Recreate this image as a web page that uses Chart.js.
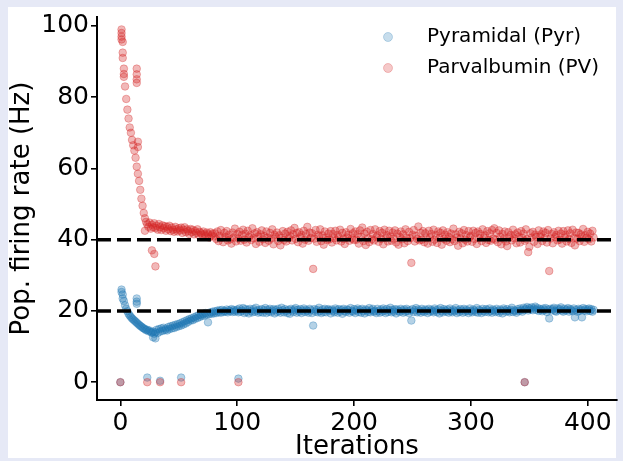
<!DOCTYPE html>
<html>
<head>
<meta charset="utf-8">
<script src="https://cdn.jsdelivr.net/npm/chart.js@4.4.1/dist/chart.umd.min.js"></script>
<style>
  html, body { margin: 0; padding: 0; background: #e6e9f6; }
  canvas { display: block; }
</style>
</head>
<body>
<canvas id="rates" width="623" height="461"></canvas>
<script>
// Population firing rates recorded at each training iteration (index = iteration).
const seriesNames = ['Pyramidal (Pyr)', 'Parvalbumin (PV)'];
const targetRates = [40, 20];
const xTicks = [0, 100, 200, 300, 400];
const yTicks = [0, 20, 40, 60, 80, 100];

const pyrRate = [
  0.0,
  // 1-10
  26.0, 24.6, 22.8, 21.6, 20.6, 19.9, 19.2, 18.7, 18.3, 17.9,
  // 11-20
  17.6, 17.3, 17.0, 16.7, 16.4, 16.1, 15.8, 15.6, 15.3, 15.1,
  // 21-30
  14.9, 14.6, 14.7, 14.3, 14.5, 14.1, 13.9, 14.2, 13.6, 14.0,
  // 31-40
  14.7, 13.8, 14.9, 14.2, 15.1, 14.4, 15.3, 14.6, 15.0, 14.5,
  // 41-50
  15.5, 14.9, 15.7, 15.1, 15.9, 15.2, 16.1, 15.5, 16.3, 15.7,
  // 51-60
  16.5, 15.9, 16.8, 16.2, 17.1, 16.5, 17.4, 16.9, 17.7, 17.3,
  // 61-70
  17.9, 17.4, 18.2, 17.8, 18.5, 18.0, 18.8, 18.3, 19.0, 18.6,
  // 71-80
  19.2, 18.7, 19.4, 19.0, 16.8, 19.1, 19.6, 19.2, 19.8, 19.3,
  // 81-90
  19.9, 19.4, 20.1, 19.6, 20.2, 19.5, 20.3, 19.7, 20.0, 19.8,
  // 91-99
  20.4, 19.6, 20.2, 19.9, 20.5, 19.7, 20.3, 19.8, 20.1,
  // 100-119
  20.4, 19.6, 20.7, 19.8, 20.1, 20.8, 19.4, 20.5, 19.7, 20.3, 19.3, 20.6, 20.0, 19.6, 20.5, 19.8, 20.9, 20.1, 19.5, 20.3,
  // 120-139
  19.7, 20.5, 19.5, 20.2, 20.8, 19.4, 20.3, 19.8, 20.6, 19.6, 20.1, 20.5, 19.3, 20.3, 19.7, 20.6, 20.0, 19.5, 20.9, 20.2,
  // 140-159
  19.6, 20.5, 20.0, 19.4, 20.3, 19.2, 20.6, 20.1, 19.7, 20.4, 20.8, 19.5, 20.3, 19.8, 20.5, 19.4, 20.1, 20.7, 19.7, 20.3,
  // 160-179
  20.0, 19.5, 20.6, 20.2, 19.4, 15.9, 20.5, 19.8, 20.3, 19.6, 20.9, 20.0, 19.4, 20.4, 19.7, 20.6, 19.6, 20.2, 20.5, 20.1,
  // 180-199
  19.3, 20.4, 20.0, 19.6, 20.7, 20.2, 19.5, 20.5, 19.8, 20.3, 19.2, 20.6, 20.0, 19.7, 20.4, 20.2, 19.5, 20.8, 20.0, 19.8,
  // 200-219
  20.5, 19.4, 20.2, 20.7, 19.7, 20.3, 19.5, 20.6, 20.0, 19.3, 20.4, 20.1, 19.7, 20.8, 19.6, 20.2, 20.6, 19.8, 20.0, 19.4,
  // 220-239
  20.6, 20.0, 19.5, 20.4, 19.8, 20.7, 20.1, 19.4, 20.5, 19.7, 20.2, 20.9, 19.6, 20.3, 19.8, 20.5, 19.3, 20.4, 20.0, 19.7,
  // 240-259
  20.6, 20.1, 19.5, 20.4, 19.8, 20.6, 20.0, 19.4, 20.2, 17.3, 20.5, 19.7, 20.2, 20.8, 19.6, 20.4, 20.0, 19.5, 20.6, 20.0,
  // 260-279
  19.7, 20.4, 20.1, 19.4, 20.6, 19.8, 20.3, 20.0, 19.6, 20.7, 20.2, 19.7, 20.4, 19.3, 20.8, 20.0, 19.6, 20.5, 20.1, 19.8,
  // 280-299
  20.4, 19.5, 20.7, 20.0, 19.6, 20.3, 19.9, 20.8, 19.4, 20.2, 19.7, 20.5, 20.1, 19.5, 20.6, 19.8, 20.3, 20.0, 19.4, 20.7,
  // 300-319
  20.0, 19.6, 20.4, 20.1, 19.7, 20.8, 19.5, 20.3, 20.0, 19.4, 20.6, 20.0, 19.7, 20.5, 20.2, 19.6, 20.7, 20.0, 19.5, 20.4,
  // 320-339
  20.1, 19.7, 20.6, 20.0, 19.5, 20.4, 20.0, 19.3, 20.7, 20.2, 19.8, 20.5, 20.0, 19.6, 20.3, 20.9, 19.7, 20.2, 20.0, 19.5,
  // 340-359
  20.5, 20.0, 20.7, 20.2, 19.8, 20.9, 20.3, 20.6, 21.1, 20.1, 20.8, 20.4, 21.0, 20.2, 20.7, 21.2, 20.3, 20.8, 20.0, 20.6,
  // 360-379
  20.3, 19.9, 20.7, 20.2, 20.8, 19.7, 20.4, 17.9, 20.6, 20.1, 20.5, 20.9, 20.0, 19.8, 20.7, 20.2, 20.5, 21.0, 20.1, 19.8,
  // 380-399
  20.6, 20.1, 20.4, 20.8, 19.8, 20.5, 20.2, 19.9, 20.7, 18.2, 20.3, 19.8, 20.6, 20.0, 20.4, 18.2, 20.8, 20.1, 20.5, 19.9,
  // 400-405
  20.4, 20.7, 20.0, 20.5, 19.8, 20.3
];

const pvRate = [
  0.0,
  // 1-10
  99.0, 95.5, 88.0, 83.0, 79.5, 76.5, 74.0, 71.5, 70.0, 68.0,
  // 11-20
  66.5, 65.0, 63.0, 60.5, 58.5, 56.5, 54.0, 51.5, 49.5, 47.5,
  // 21-30
  46.0, 45.0, 44.3, 43.6, 44.8, 43.1, 44.2, 43.5, 44.6, 43.3,
  // 31-40
  43.9, 42.8, 44.4, 43.5, 42.7, 44.0, 43.2, 43.8, 42.5, 43.6,
  // 41-50
  42.9, 43.9, 42.4, 43.4, 42.8, 42.2, 43.6, 42.9, 42.3, 43.2,
  // 51-60
  42.6, 43.4, 41.9, 42.8, 43.5, 42.1, 42.9, 42.4, 41.6, 43.0,
  // 61-70
  42.1, 42.8, 41.5, 42.4, 41.9, 42.9, 41.3, 42.2, 41.8, 41.4,
  // 71-80
  42.3, 41.6, 41.0, 42.0, 41.5, 40.6, 42.1, 41.2, 41.7, 40.9,
  // 81-100
  41.8, 40.2, 42.3, 39.6, 41.1, 42.7, 40.5, 39.3, 41.9, 40.8, 42.4, 39.8, 41.4, 40.1, 38.9, 42.0, 40.6, 43.1, 39.5, 41.6,
  // 101-120
  40.3, 42.2, 39.7, 41.3, 42.8, 40.0, 41.7, 39.2, 42.5, 40.7, 41.2, 39.9, 43.2, 40.4, 41.8, 38.8, 42.1, 40.9, 39.4, 41.5,
  // 121-140
  42.6, 40.1, 41.0, 39.1, 42.3, 40.6, 39.7, 41.9, 40.3, 42.9, 38.7, 41.4, 40.8, 42.0, 39.6, 41.2, 38.4, 40.5, 42.4, 39.9,
  // 141-160
  41.7, 39.5, 42.2, 40.4, 41.1, 42.6, 39.8, 41.5, 43.3, 40.2, 41.9, 39.3, 42.1, 40.7, 41.3, 38.9, 42.5, 40.0, 41.6, 43.6,
  // 161-180
  39.7, 42.0, 40.5, 41.8, 31.8, 40.3, 42.7, 39.4, 41.4, 40.9, 42.9, 39.6, 41.2, 38.6, 42.3, 40.6, 39.9, 41.7, 40.1, 42.4,
  // 181-200
  39.2, 41.6, 40.4, 42.5, 39.8, 41.3, 40.7, 42.8, 39.5, 41.9, 40.2, 38.8, 42.1, 40.6, 41.4, 39.7, 43.0, 40.3, 41.8, 39.9,
  // 201-220
  42.3, 40.0, 41.5, 38.9, 42.6, 40.8, 43.4, 39.6, 41.7, 38.5, 42.2, 40.4, 39.3, 42.7, 40.1, 41.6, 39.8, 42.9, 40.7, 41.2,
  // 221-240
  39.4, 42.4, 40.2, 41.9, 38.7, 42.8, 40.5, 41.3, 39.5, 42.5, 40.9, 39.7, 42.0, 40.3, 42.6, 39.2, 41.7, 38.6, 40.8, 42.3,
  // 241-260
  40.1, 41.5, 39.0, 42.9, 40.6, 39.6, 42.2, 40.4, 33.5, 41.4, 42.7, 39.5, 41.1, 40.2, 43.7, 39.8, 41.9, 40.0, 42.4, 39.3,
  // 261-280
  41.8, 40.4, 38.9, 42.5, 40.7, 41.6, 39.4, 42.8, 40.0, 41.3, 39.1, 42.3, 40.5, 41.9, 38.6, 42.6, 40.2, 41.4, 39.7, 42.1,
  // 281-300
  40.8, 39.3, 41.7, 40.1, 43.1, 39.6, 41.5, 40.6, 38.3, 42.2, 40.3, 41.8, 39.0, 42.7, 40.0, 41.3, 39.5, 42.4, 40.7, 41.1,
  // 301-320
  39.4, 42.5, 40.2, 41.9, 38.8, 42.3, 40.4, 41.6, 39.6, 42.9, 40.6, 41.2, 39.1, 42.4, 39.9, 41.8, 39.7, 42.7, 40.3, 43.2,
  // 321-340
  40.0, 41.9, 39.3, 42.6, 40.8, 38.7, 41.6, 40.2, 42.3, 39.5, 38.2, 42.1, 40.7, 41.3, 39.8, 42.8, 40.4, 41.5, 39.0, 42.0,
  // 341-360
  40.9, 39.2, 42.4, 40.5, 41.7, 39.7, 42.9, 40.1, 36.5, 38.0, 41.8, 40.6, 42.2, 39.4, 41.4, 40.8, 38.8, 42.6, 40.9, 41.5,
  // 361-380
  39.6, 42.3, 40.4, 41.9, 39.2, 42.7, 31.2, 40.3, 41.6, 39.0, 42.1, 40.7, 41.3, 39.8, 42.5, 40.0, 41.7, 38.9, 42.4, 40.6,
  // 381-400
  41.4, 39.5, 42.6, 40.2, 41.8, 39.1, 42.8, 40.5, 38.4, 42.0, 40.3, 41.9, 39.6, 41.5, 40.8, 43.0, 39.4, 41.2, 40.6, 42.2,
  // 401-405
  40.1, 41.7, 39.5, 42.5, 40.6
];

// Additional samples logged within the same iterations: [iteration, rate].
const pyrExtra = [[1, 25.3], [2, 23.5], [14, 23.5], [14, 22.6], [14, 22.0], [28, 12.6], [30, 12.3],
                  [23, 1.3], [34, 0.4], [52, 1.3], [101, 1.0], [346, 0.0]];
const pvExtra = [[1, 98.0], [1, 97.0], [1, 96.2], [2, 92.5], [2, 91.0], [3, 86.5], [3, 85.7],
                 [14, 88.0], [14, 86.4], [14, 85.0], [14, 84.0], [15, 67.5], [15, 66.0],
                 [21, 42.5], [27, 37.0], [29, 36.0], [30, 32.5],
                 [23, 0.0], [34, 0.0], [52, 0.0], [101, 0.0], [346, 0.0]];

const X_MIN = -20, X_MAX = 425;
const Y_MIN = -5, Y_MAX = 102.5;

const BLUE = 'rgba(31, 119, 180, 0.33)';
const RED = 'rgba(214, 39, 40, 0.33)';
const LEGEND_FILL = ['rgba(31, 119, 180, 0.25)', 'rgba(214, 39, 40, 0.25)'];
const FONT = 'DejaVu Sans';

const toPoints = (rates, extra) =>
  rates.map((y, i) => ({ x: i, y })).concat(extra.map(([x, y]) => ({ x, y })));

// Lavender frame with a white panel behind the figure.
const framePlugin = {
  id: 'frame',
  beforeDraw(chart) {
    const { ctx, width, height } = chart;
    ctx.save();
    ctx.fillStyle = '#e6e9f6';
    ctx.fillRect(0, 0, width, height);
    ctx.fillStyle = '#ffffff';
    ctx.fillRect(8, 7, 608, 451);
    ctx.restore();
  }
};

// Legend in the upper right of the plotting area.
const legendPlugin = {
  id: 'cornerLegend',
  afterDraw(chart) {
    const { ctx } = chart;
    ctx.save();
    ctx.font = '20px "' + FONT + '"';
    ctx.textBaseline = 'alphabetic';
    ctx.textAlign = 'left';
    seriesNames.forEach((name, i) => {
      const cy = 37 + i * 31;
      ctx.beginPath();
      ctx.arc(388, cy, 4.5, 0, Math.PI * 2);
      ctx.fillStyle = LEGEND_FILL[i];
      ctx.strokeStyle = LEGEND_FILL[i];
      ctx.lineWidth = 1;
      ctx.fill();
      ctx.stroke();
      ctx.fillStyle = '#000';
      ctx.fillText(name, 427, cy + 5);
    });
    ctx.restore();
  }
};

const axisCommon = {
  type: 'linear',
  grid: { display: true, drawOnChartArea: false, drawTicks: true, tickLength: 6, color: '#000', lineWidth: 1.6 },
  border: { display: true, color: '#000', width: 2 },
  ticks: { color: '#000', font: { family: FONT, size: 25 }, autoSkip: false, maxRotation: 0, padding: 2 }
};

new Chart(document.getElementById('rates'), {
  type: 'scatter',
  data: {
    datasets: [
      ...targetRates.map(t => ({
        type: 'line',
        data: [{ x: X_MIN, y: t }, { x: X_MAX, y: t }],
        borderColor: '#000',
        borderWidth: 3.5,
        borderDash: [14, 6],
        pointRadius: 0,
        fill: false,
        order: 0
      })),
      {
        label: seriesNames[1],
        data: toPoints(pvRate, pvExtra),
        backgroundColor: RED,
        borderColor: RED,
        borderWidth: 1,
        pointRadius: 3.8,
        order: 1
      },
      {
        label: seriesNames[0],
        data: toPoints(pyrRate, pyrExtra),
        backgroundColor: BLUE,
        borderColor: BLUE,
        borderWidth: 1,
        pointRadius: 3.8,
        order: 2
      }
    ]
  },
  options: {
    responsive: false,
    animation: false,
    devicePixelRatio: 1,
    layout: { padding: { left: 0, top: 15, right: 6, bottom: 0 } },
    plugins: { legend: { display: false }, tooltip: { enabled: false } },
    scales: {
      x: {
        ...axisCommon,
        min: X_MIN,
        max: X_MAX,
        afterBuildTicks: s => { s.ticks = xTicks.map(v => ({ value: v })); },
        afterFit: s => { s.height = 61; },
        title: { display: true, text: 'Iterations', color: '#000',
                 font: { family: FONT, size: 26, lineHeight: 1 }, padding: { top: 0, bottom: 1 } }
      },
      y: {
        ...axisCommon,
        min: Y_MIN,
        max: Y_MAX,
        afterBuildTicks: s => { s.ticks = yTicks.map(v => ({ value: v })); },
        afterFit: s => { s.width = 97; },
        title: { display: true, text: 'Pop. firing rate (Hz)', color: '#000',
                 font: { family: FONT, size: 26, lineHeight: 1 }, padding: { top: 9, bottom: 0 } }
      }
    }
  },
  plugins: [framePlugin, legendPlugin]
});
</script>
</body>
</html>
